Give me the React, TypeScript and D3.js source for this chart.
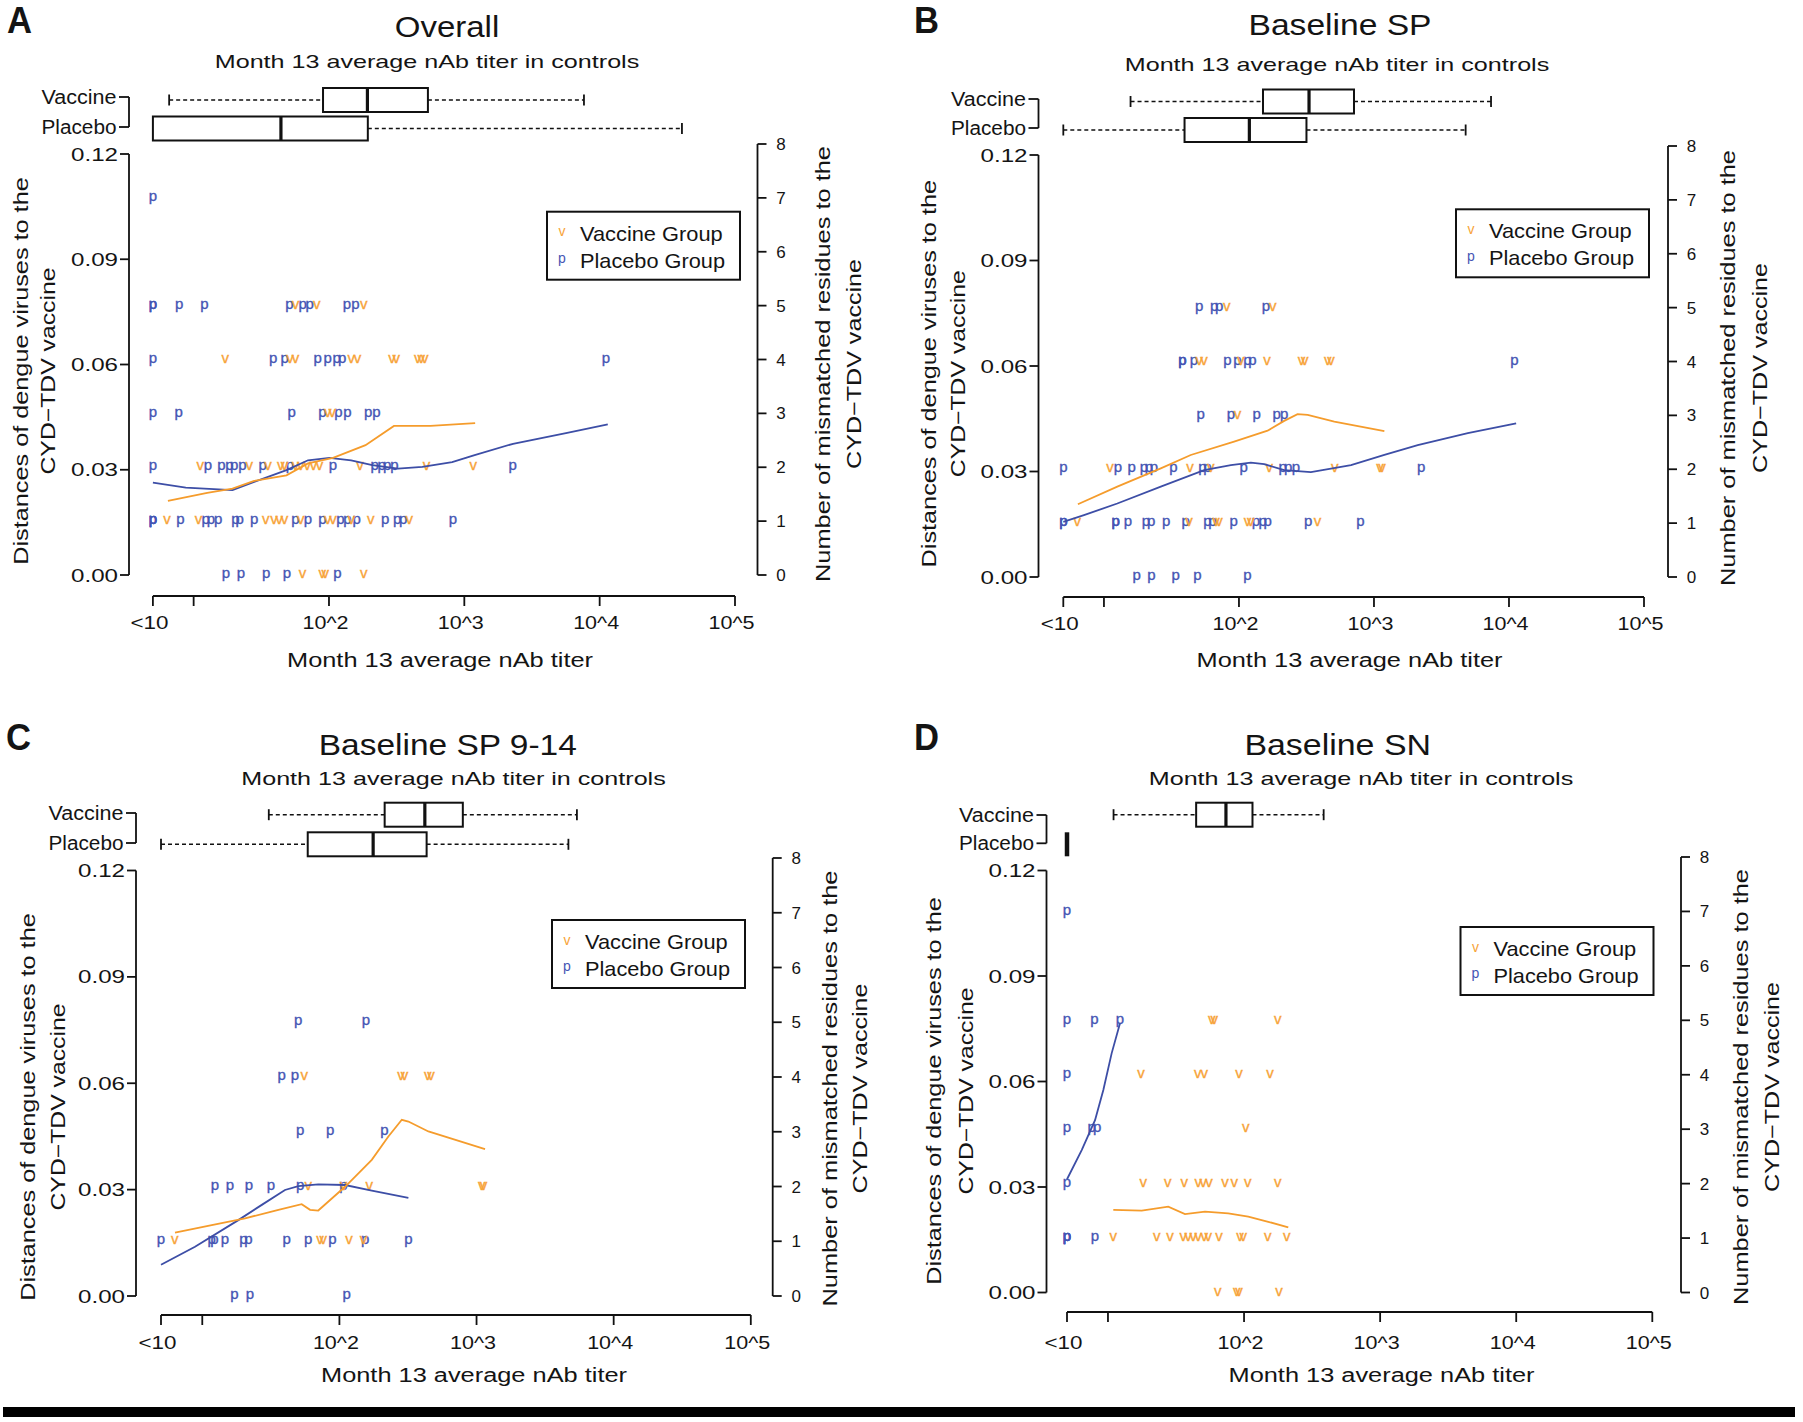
import React, { useEffect } from 'react';
import * as d3 from 'd3';

const FONT = "'Liberation Sans', Arial, Helvetica, sans-serif";
const TEXT = '#141414';
const LINE_ORANGE = '#f59c2c';
const LINE_BLUE = '#3d4ea6';
const P_COLOR = '#4555b4';
const V_COLOR = '#f7a338';

// ---------------- text content ----------------
const panelLetters = ['A', 'B', 'C', 'D'];
const panelTitles = ['Overall', 'Baseline SP', 'Baseline SP 9-14', 'Baseline SN'];
const subtitleText = 'Month 13 average nAb titer in controls';
const xAxisTitle = 'Month 13 average nAb titer';
const leftTitleLines = ['Distances of dengue viruses to the', 'CYD\u2212TDV vaccine'];
const rightTitleLines = ['Number of mismatched residues to the', 'CYD\u2212TDV vaccine'];
const legendLabels = ['Vaccine Group', 'Placebo Group'];
const legendSymbols = ['v', 'p'];
const boxLabels = ['Vaccine', 'Placebo'];

// ---------------- ticks ----------------
const xTickValues = [Math.log10(5), 1, 2, 3, 4, 5];
const xTickLabels = ['<10', '', '10^2', '10^3', '10^4', '10^5'];
const leftTickValues = [0, 0.03, 0.06, 0.09, 0.12];
const leftTickLabels = ['0.00', '0.03', '0.06', '0.09', '0.12'];
const rightTickValues = [0, 1, 2, 3, 4, 5, 6, 7, 8];

// ---------------- data: log10 titer by number of mismatched residues (index) ----------------
const overallVaccine = [
  [1.805, 1.951, 1.972, 2.257],
  [0.804, 1.035, 1.532, 1.593, 1.633, 1.672, 1.792, 1.991, 2.03, 2.164, 2.309, 2.593],
  [1.048, 1.41, 1.55, 1.643, 1.672, 1.752, 1.792, 1.84, 1.885, 1.93, 2.23, 2.72, 3.066],
  [1.99, 2.025],
  [1.234, 1.712, 1.752, 2.164, 2.211, 2.465, 2.497, 2.655, 2.681, 2.708],
  [1.752, 1.91, 2.257],
];
const overallPlacebo = [
  [1.239, 1.35, 1.536, 1.689, 2.062],
  [0.699, 0.699, 0.699, 0.903, 1.088, 1.128, 1.181, 1.309, 1.34, 1.447, 1.752, 1.845, 1.951, 2.084, 2.137, 2.204, 2.416, 2.503, 2.548, 2.915],
  [0.699, 1.106, 1.206, 1.265, 1.3, 1.36, 1.51, 1.712, 2.03, 2.337, 2.39, 2.43, 2.483, 3.358],
  [0.699, 0.889, 1.725, 1.951, 2.07, 2.137, 2.29, 2.35],
  [0.699, 1.587, 1.672, 1.917, 1.991, 2.057, 2.097, 4.046],
  [0.699, 0.699, 0.894, 1.08, 1.707, 1.805, 1.858, 2.132, 2.196],
  [],
  [0.699],
];
const spVaccine = [
  [],
  [0.803, 1.63, 1.83, 1.853, 2.063, 2.088, 2.582],
  [1.045, 1.638, 1.791, 2.224, 2.71, 3.045, 3.06],
  [1.99],
  [1.705, 1.742, 2.014, 2.207, 2.464, 2.488, 2.657, 2.681],
  [1.91, 2.25],
];
const spPlacebo = [
  [1.242, 1.351, 1.532, 1.692, 2.063],
  [0.699, 0.699, 1.087, 1.087, 1.178, 1.31, 1.35, 1.46, 1.606, 1.767, 1.804, 1.96, 2.125, 2.175, 2.212, 2.513, 2.899],
  [0.699, 1.104, 1.206, 1.297, 1.334, 1.371, 1.515, 1.73, 1.766, 2.034, 2.323, 2.365, 2.422, 3.35],
  [1.717, 1.94, 2.132, 2.28, 2.335],
  [1.581, 1.581, 1.667, 1.915, 1.989, 2.063, 2.1, 4.04],
  [1.705, 1.816, 1.853, 2.199],
];
const sp914Vaccine = [
  [],
  [0.8, 1.859, 1.883, 2.07, 2.175],
  [1.773, 2.03, 2.218, 3.038, 3.05],
  [],
  [1.744, 2.45, 2.474, 2.644, 2.668],
];
const sp914Placebo = [
  [1.234, 1.348, 2.053],
  [0.699, 1.069, 1.088, 1.166, 1.3, 1.336, 1.616, 1.773, 1.949, 2.187, 2.503],
  [1.093, 1.202, 1.341, 1.501, 1.713, 2.029],
  [1.713, 1.932, 2.328],
  [1.579, 1.676],
  [1.7, 2.194],
];
const snVaccine = [
  [1.806, 1.946, 1.963, 2.257],
  [1.039, 1.358, 1.456, 1.554, 1.59, 1.627, 1.664, 1.708, 1.737, 1.816, 1.97, 1.994, 2.174, 2.313],
  [1.26, 1.439, 1.561, 1.664, 1.701, 1.742, 1.86, 1.928, 2.027, 2.247],
  [2.012],
  [1.243, 1.659, 1.708, 1.963, 2.19],
  [1.762, 1.781, 2.247],
];
const snPlacebo = [
  [],
  [0.699, 0.699, 0.699, 0.905],
  [0.699],
  [0.699, 0.88, 0.92],
  [0.699],
  [0.699, 0.9, 1.088],
  [],
  [0.699],
];

// smoothed distance curves: [log10 titer, distance]
const overallVaccineCurve = [[0.81, 0.0211], [1.1, 0.0234], [1.287, 0.0246], [1.447, 0.0268], [1.686, 0.0284], [1.845, 0.0318], [2.03, 0.0334], [2.27, 0.037], [2.48, 0.0425], [2.75, 0.0425], [3.08, 0.0433]];
const overallPlaceboCurve = [[0.699, 0.0263], [0.942, 0.0249], [1.287, 0.0242], [1.447, 0.0265], [1.686, 0.0299], [1.845, 0.0327], [2.004, 0.0334], [2.164, 0.0327], [2.32, 0.0313], [2.51, 0.0303], [2.69, 0.0308], [2.91, 0.0322], [3.07, 0.0341], [3.36, 0.0374], [3.76, 0.0405], [4.06, 0.0429]];
const spVaccineCurve = [[0.807, 0.0207], [1.099, 0.0257], [1.421, 0.0309], [1.643, 0.0347], [1.964, 0.0385], [2.212, 0.0416], [2.335, 0.0444], [2.434, 0.0463], [2.509, 0.0461], [2.706, 0.0442], [3.077, 0.0415]];
const spPlaceboCurve = [[0.699, 0.0157], [0.852, 0.0176], [1.099, 0.0209], [1.421, 0.0257], [1.742, 0.0304], [1.94, 0.0318], [2.088, 0.0325], [2.187, 0.0321], [2.335, 0.0304], [2.533, 0.0298], [2.83, 0.0318], [3.077, 0.0347], [3.324, 0.0375], [3.695, 0.0409], [4.053, 0.0437]];
const sp914VaccineCurve = [[0.801, 0.0179], [1.069, 0.02], [1.312, 0.0219], [1.555, 0.0243], [1.725, 0.0259], [1.786, 0.0243], [1.846, 0.0241], [2.041, 0.0308], [2.236, 0.0384], [2.357, 0.045], [2.455, 0.0497], [2.503, 0.0492], [2.649, 0.0464], [3.062, 0.0414]];
const sp914PlaceboCurve = [[0.699, 0.0088], [0.947, 0.0139], [1.263, 0.0214], [1.434, 0.0257], [1.603, 0.0299], [1.7, 0.031], [1.846, 0.0315], [2.041, 0.0313], [2.236, 0.0297], [2.503, 0.0277]];
const snVaccineCurve = [[1.039, 0.0235], [1.248, 0.0233], [1.443, 0.0244], [1.566, 0.0223], [1.713, 0.023], [1.884, 0.0225], [2.031, 0.0216], [2.178, 0.0201], [2.325, 0.0185]];
const snPlaceboCurve = [[0.699, 0.0322], [0.807, 0.0405], [0.905, 0.049], [0.966, 0.0576], [1.027, 0.068], [1.088, 0.0765]];

// box plots of control titers: [whisker low, q1, median, q3, whisker high] (log10)
const overallBoxVaccine = [0.819, 1.956, 2.284, 2.731, 3.884];
const overallBoxPlacebo = [0.699, 0.699, 1.645, 2.287, 4.608];
const spBoxVaccine = [1.197, 2.178, 2.519, 2.852, 3.867];
const spBoxPlacebo = [0.699, 1.597, 2.077, 2.5, 3.679];
const sp914BoxVaccine = [1.485, 2.33, 2.623, 2.9, 3.732];
const sp914BoxPlacebo = [0.699, 1.769, 2.246, 2.636, 3.67];
const snBoxVaccine = [1.041, 1.648, 1.867, 2.062, 2.585];
const snBoxPlacebo = [0.699, 0.699, 0.699, 0.699, 0.699];

const panelData = [
  { vac: overallVaccine, pla: overallPlacebo, vCurve: overallVaccineCurve, pCurve: overallPlaceboCurve, vBox: overallBoxVaccine, pBox: overallBoxPlacebo },
  { vac: spVaccine, pla: spPlacebo, vCurve: spVaccineCurve, pCurve: spPlaceboCurve, vBox: spBoxVaccine, pBox: spBoxPlacebo },
  { vac: sp914Vaccine, pla: sp914Placebo, vCurve: sp914VaccineCurve, pCurve: sp914PlaceboCurve, vBox: sp914BoxVaccine, pBox: sp914BoxPlacebo },
  { vac: snVaccine, pla: snPlacebo, vCurve: snVaccineCurve, pCurve: snPlaceboCurve, vBox: snBoxVaccine, pBox: snBoxPlacebo },
];

// ---------------- layout (pixel positions) ----------------
const layouts = [
  { letterX: 7, letterY: 33, titleX: 447, titleY: 36.7, subX: 427, subY: 68.3,
    xLow: 152.9, xHigh: 735, xAxisY: 596, tickLabelY: 628.5, xTitleX: 440, xTitleY: 667,
    leftX: 129, y0: 575, y12: 154, rightX: 757.5, yR0: 575, yR8: 144,
    leftTitleX: [20.7, 48.3], leftTitleY: 371, rightTitleX: [822.5, 854], rightTitleY: 364,
    boxVY: 100, boxPY: 128.5, labVY: 97, labPY: 127, legendX: 547, legendY: 211.7 },
  { letterX: 914, letterY: 33, titleX: 1340, titleY: 34.5, subX: 1337, subY: 70.5,
    xLow: 1063.3, xHigh: 1644, xAxisY: 597, tickLabelY: 630, xTitleX: 1349.5, xTitleY: 667,
    leftX: 1038.5, y0: 577, y12: 155, rightX: 1668, yR0: 577, yR8: 146,
    leftTitleX: [929, 958], leftTitleY: 373.7, rightTitleX: [1728, 1759.5], rightTitleY: 368,
    boxVY: 101.5, boxPY: 130, labVY: 99, labPY: 128, legendX: 1456, legendY: 209.3 },
  { letterX: 6, letterY: 750, titleX: 447.8, titleY: 755, subX: 453.5, subY: 785,
    xLow: 161, xHigh: 750.8, xAxisY: 1315, tickLabelY: 1349, xTitleX: 474, xTitleY: 1382,
    leftX: 136, y0: 1296, y12: 870.5, rightX: 772.7, yR0: 1296, yR8: 858,
    leftTitleX: [27.6, 57.5], leftTitleY: 1107, rightTitleX: [830, 860], rightTitleY: 1088.5,
    boxVY: 814.7, boxPY: 844.3, labVY: 813, labPY: 843, legendX: 552, legendY: 920 },
  { letterX: 914, letterY: 750, titleX: 1337.7, titleY: 755, subX: 1361, subY: 785,
    xLow: 1067, xHigh: 1652.3, xAxisY: 1312, tickLabelY: 1349, xTitleX: 1381.5, xTitleY: 1382,
    leftX: 1046.5, y0: 1292.5, y12: 870.5, rightX: 1681, yR0: 1292.5, yR8: 857,
    leftTitleX: [934, 966], leftTitleY: 1091, rightTitleX: [1741, 1772], rightTitleY: 1087,
    boxVY: 814.7, boxPY: 844.3, labVY: 815, labPY: 843.3, legendX: 1460.5, legendY: 927 },
];

const titleWidths = [104.5, 183, 258, 186.6];

function Txt(props: any) {
  const { x = 0, y = 0, size, anchor = 'middle', len, weight, fill = TEXT, rotate, children } = props;
  const common: any = {
    fontFamily: FONT, fontSize: size, textAnchor: anchor, fill, fontWeight: weight,
  };
  if (len) { common.textLength = len; common.lengthAdjust = 'spacingAndGlyphs'; }
  if (rotate) {
    return <text transform={`translate(${x},${y}) rotate(-90)`} {...common}>{children}</text>;
  }
  return <text x={x} y={y} {...common}>{children}</text>;
}

function BoxPlot({ stats, cy, x }: any) {
  const [lo, q1, med, q3, hi] = stats.map((v: number) => x(v));
  const h = 24;
  const cap = 5.5;
  return (
    <g stroke="#111" fill="none">
      {q1 > lo && <line x1={lo} x2={q1} y1={cy} y2={cy} strokeWidth={1.6} strokeDasharray="4,3" />}
      {hi > q3 && <line x1={q3} x2={hi} y1={cy} y2={cy} strokeWidth={1.6} strokeDasharray="4,3" />}
      {q1 > lo && <line x1={lo} x2={lo} y1={cy - cap} y2={cy + cap} strokeWidth={1.8} />}
      {hi > q3 && <line x1={hi} x2={hi} y1={cy - cap} y2={cy + cap} strokeWidth={1.8} />}
      <rect x={q1} y={cy - h / 2} width={Math.max(0, q3 - q1)} height={h} strokeWidth={2} fill="white" />
      <line x1={med} x2={med} y1={cy - h / 2} y2={cy + h / 2} strokeWidth={q3 > q1 ? 3.2 : 4.5} />
    </g>
  );
}

function Panel({ idx }: { idx: number }) {
  const L = layouts[idx];
  const D = panelData[idx];
  const x = d3.scaleLinear().domain([Math.log10(5), 5]).range([L.xLow, L.xHigh]);
  const yL = d3.scaleLinear().domain([0, 0.12]).range([L.y0, L.y12]);
  const yR = d3.scaleLinear().domain([0, 8]).range([L.yR0, L.yR8]);
  const line = d3.line<number[]>().x((d) => x(d[0])).y((d) => yL(d[1])).curve(d3.curveLinear);

  const pts = (rows: number[][], ch: string, color: string) =>
    rows.flatMap((row, r) => row.map((t, i) => (
      <text key={`${ch}${r}-${i}`} x={x(t)} y={yR(r) + 3.2} fontFamily={FONT} fontSize={15}
        textAnchor="middle" fill={color} stroke={color} strokeWidth={0.35}>{ch}</text>
    )));

  const legW = 193, legH = 68;
  return (
    <g>
      {/* panel letter & titles */}
      <Txt x={L.letterX} y={L.letterY} size={36} anchor="start" weight="bold" len={25}>{panelLetters[idx]}</Txt>
      <Txt x={L.titleX} y={L.titleY} size={30} len={titleWidths[idx]}>{panelTitles[idx]}</Txt>
      <Txt x={L.subX} y={L.subY} size={19} len={424.5}>{subtitleText}</Txt>

      {/* box plot bracket */}
      <g stroke="#111" strokeWidth={1.8} fill="none">
        <line x1={L.leftX} x2={L.leftX} y1={L.labVY} y2={L.labPY} />
        <line x1={L.leftX - 10} x2={L.leftX} y1={L.labVY} y2={L.labVY} />
        <line x1={L.leftX - 10} x2={L.leftX} y1={L.labPY} y2={L.labPY} />
      </g>
      <Txt x={L.leftX - 12.5} y={L.labVY + 7} size={20} anchor="end" len={75}>{boxLabels[0]}</Txt>
      <Txt x={L.leftX - 12.5} y={L.labPY + 7} size={20} anchor="end" len={75}>{boxLabels[1]}</Txt>
      <BoxPlot stats={D.vBox} cy={L.boxVY} x={x} />
      <BoxPlot stats={D.pBox} cy={L.boxPY} x={x} />

      {/* left axis */}
      <g stroke="#111" strokeWidth={1.8}>
        <line x1={L.leftX} x2={L.leftX} y1={yL(0)} y2={yL(0.12)} />
        {leftTickValues.map((v) => <line key={v} x1={L.leftX - 9} x2={L.leftX} y1={yL(v)} y2={yL(v)} />)}
      </g>
      {leftTickValues.map((v, i) => (
        <Txt key={v} x={L.leftX - 11} y={yL(v) + 6.5} size={18.5} anchor="end" len={47}>{leftTickLabels[i]}</Txt>
      ))}
      {leftTitleLines.map((s, i) => (
        <Txt key={i} rotate x={L.leftTitleX[i] + 7} y={L.leftTitleY} size={20} len={i === 0 ? 387.5 : 207}>{s}</Txt>
      ))}

      {/* right axis */}
      <g stroke="#111" strokeWidth={1.8}>
        <line x1={L.rightX} x2={L.rightX} y1={yR(0)} y2={yR(8)} />
        {rightTickValues.map((v) => <line key={v} x1={L.rightX} x2={L.rightX + 9} y1={yR(v)} y2={yR(v)} />)}
      </g>
      {rightTickValues.map((v) => (
        <Txt key={v} x={L.rightX + 23.5} y={yR(v) + 6} size={17}>{String(v)}</Txt>
      ))}
      {rightTitleLines.map((s, i) => (
        <Txt key={i} rotate x={L.rightTitleX[i] + 7} y={L.rightTitleY} size={20} len={i === 0 ? 436 : 210}>{s}</Txt>
      ))}

      {/* x axis */}
      <g stroke="#111" strokeWidth={1.8}>
        <line x1={x(xTickValues[0])} x2={x(5)} y1={L.xAxisY} y2={L.xAxisY} />
        {xTickValues.map((v) => <line key={v} x1={x(v)} x2={x(v)} y1={L.xAxisY} y2={L.xAxisY + 10} />)}
      </g>
      {xTickValues.map((v, i) => xTickLabels[i] ? (
        <Txt key={v} x={x(v) - 3.5} y={L.tickLabelY} size={18.5} len={i === 0 ? 38 : 46}>{xTickLabels[i]}</Txt>
      ) : null)}
      <Txt x={L.xTitleX} y={L.xTitleY} size={19.5} len={306}>{xAxisTitle}</Txt>

      {/* points */}
      {pts(D.pla, 'p', P_COLOR)}
      {pts(D.vac, 'v', V_COLOR)}

      {/* smoothed curves */}
      <path d={line(D.pCurve) || ''} fill="none" stroke={LINE_BLUE} strokeWidth={1.8} />
      <path d={line(D.vCurve) || ''} fill="none" stroke={LINE_ORANGE} strokeWidth={1.8} />

      {/* legend */}
      <rect x={L.legendX} y={L.legendY} width={legW} height={legH} fill="white" stroke="#111" strokeWidth={2} />
      {legendLabels.map((s, i) => (
        <g key={s}>
          <text x={L.legendX + 15} y={L.legendY + 21.6 + i * 26.7 + 3} fontFamily={FONT} fontSize={14}
            textAnchor="middle" fill={i === 0 ? V_COLOR : P_COLOR}>{legendSymbols[i]}</text>
          <Txt x={L.legendX + 33} y={L.legendY + 21.6 + i * 26.7 + 7.5} size={21} anchor="start" len={i === 0 ? 142.7 : 145}>{s}</Txt>
        </g>
      ))}
    </g>
  );
}

export default function App() {
  useEffect(() => {
    document.body.style.margin = '0';
    document.body.style.overflow = 'hidden';
  }, []);
  return (
    <svg width={1803} height={1422} viewBox="0 0 1803 1422" style={{ display: 'block', background: 'white' }}>
      <rect x={0} y={0} width={1803} height={1422} fill="white" />
      {[0, 1, 2, 3].map((i) => <Panel key={i} idx={i} />)}
      <rect x={3} y={1407} width={1792} height={10} fill="#000" />
    </svg>
  );
}
